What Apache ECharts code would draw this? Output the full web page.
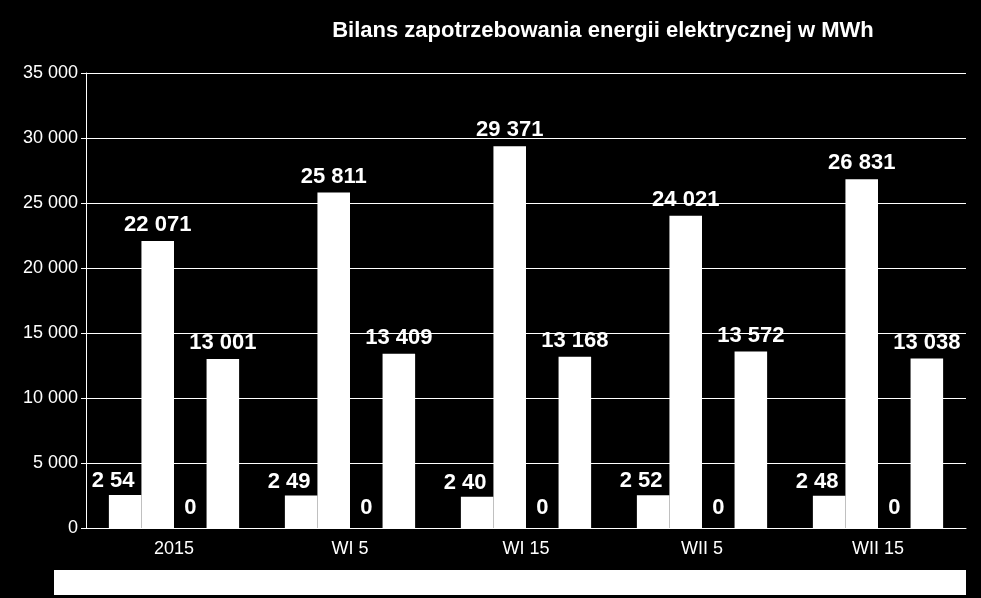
<!DOCTYPE html><html><head><meta charset="utf-8"><script src="https://cdn.jsdelivr.net/npm/echarts@6/dist/echarts.min.js"></script>
<style>body{margin:0;background:#000}#c{width:981px;height:598px}</style></head><body><div id="c"></div><script>
const categories=['2015','WI 5','WI 15','WII 5','WII 15'];
const s1=[2545,2495,2405,2525,2485];
const s1Labels=['2 54','2 49','2 40','2 52','2 48'];
const s2=[22071,25811,29371,24021,26831];
const s3=[0,0,0,0,0];
const s4=[13001,13409,13168,13572,13038];
const fmt=v=>String(v).replace(/\B(?=(\d{3})+(?!\d))/g,' ');
const lab={show:true,position:'top',color:'#fff',fontWeight:'bold',fontSize:22,fontFamily:'Liberation Sans',formatter:p=>fmt(p.value)};
const ch=echarts.init(document.getElementById('c'));
ch.setOption({backgroundColor:'#000',animation:false,
title:{text:'Bilans zapotrzebowania energii elektrycznej w MWh',left:598,top:15,textAlign:'center',textStyle:{color:'#fff',fontSize:22,fontWeight:'bold',fontFamily:'Liberation Sans'}},
graphic:[{type:'rect',shape:{x:54,y:570,width:912,height:25},style:{fill:'#fff'}}],
grid:{left:86,right:15,top:73,bottom:70},
xAxis:{type:'category',data:categories,axisLine:{lineStyle:{color:'#fff'}},axisTick:{lineStyle:{color:'#fff'},length:6},axisLabel:{color:'#fff',fontSize:18,fontFamily:'Liberation Sans',margin:12}},
yAxis:{type:'value',min:0,max:35000,interval:5000,axisLine:{show:true,lineStyle:{color:'#fff'}},axisTick:{show:true,lineStyle:{color:'#fff'}},splitLine:{lineStyle:{color:'#fff'}},axisLabel:{color:'#fff',fontSize:18,fontFamily:'Liberation Sans',formatter:fmt}},
series:[
{type:'bar',data:s1,barGap:'0%',barCategoryGap:'26%',itemStyle:{color:'#fff'},label:Object.assign({},lab,{offset:[-12,2],formatter:p=>s1Labels[p.dataIndex]})},
{type:'bar',data:s2,itemStyle:{color:'#fff'},label:lab},
{type:'bar',data:s3,itemStyle:{color:'#fff'},label:Object.assign({},lab,{offset:[0,-4]})},
{type:'bar',data:s4,itemStyle:{color:'#fff'},label:lab}
]});
</script></body></html>
